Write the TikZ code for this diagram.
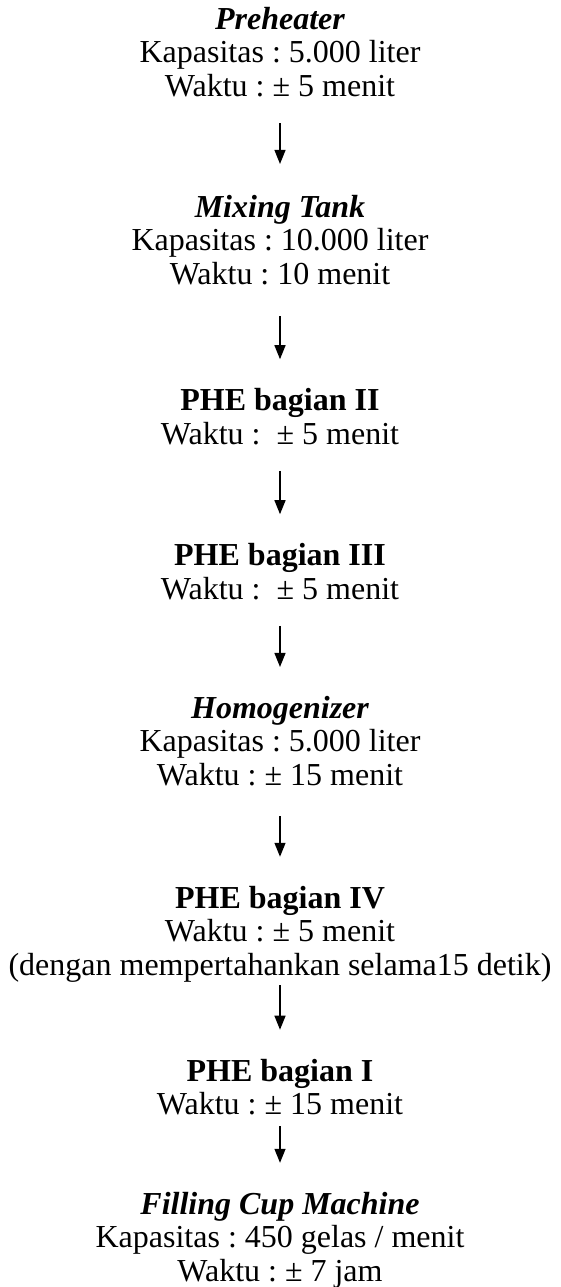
\documentclass[tikz,border=0pt]{standalone}
\usepackage{fontspec}
\setmainfont{Liberation Serif}
\usetikzlibrary{arrows.meta}
\frenchspacing
\begin{document}
\begin{tikzpicture}[x=1pt,y=1pt,
  blk/.style={align=center, inner sep=0pt, font=\frenchspacing\fontsize{32}{33.5}\selectfont},
  flow/.style={draw, line width=1.3pt, -{Triangle[length=14pt,width=11pt]}}]
\useasboundingbox (0,0) rectangle (560,-1287);
\node[blk] (b1) at (280,-52) {{\bfseries\itshape Preheater}\\Kapasitas : 5.000 liter\\Waktu : ± 5 menit};
\node[blk] (b2) at (280,-240) {{\bfseries\itshape Mixing Tank}\\Kapasitas : 10.000 liter\\Waktu : 10 menit};
\node[blk] (b3) at (280,-416.5) {{\bfseries PHE bagian II}\\Waktu :\ \ ± 5 menit};
\node[blk] (b4) at (280,-571.5) {{\bfseries PHE bagian III}\\Waktu :\ \ ± 5 menit};
\node[blk] (b5) at (280,-741) {{\bfseries\itshape Homogenizer}\\Kapasitas : 5.000 liter\\Waktu : ± 15 menit};
\node[blk] (b6) at (280,-934) {{\bfseries PHE bagian IV}\\Waktu : ± 5 menit\\(dengan mempertahankan selama15 detik)};
\node[blk] (b7) at (280,-1087) {{\bfseries PHE bagian I}\\Waktu : ± 15 menit};
\node[blk] (b8) at (280,-1240) {{\bfseries\itshape Filling Cup Machine}\\Kapasitas : 450 gelas / menit\\Waktu : ± 7 jam};
\draw[flow, shorten <=26pt, shorten >=31pt] (b1.south) -- (b2.north);
\draw[flow, shorten <=31pt, shorten >=29pt] (b2.south) -- (b3.north);
\draw[flow, shorten <=26pt, shorten >=29pt] (b3.south) -- (b4.north);
\draw[flow, shorten <=26pt, shorten >=29pt] (b4.south) -- (b5.north);
\draw[flow, shorten <=30pt, shorten >=29pt] (b5.south) -- (b6.north);
\draw[flow, shorten <=3pt, shorten >=29pt] (b6.south) -- (b7.north);
\draw[flow, shorten <=11pt, shorten >=29pt] (b7.south) -- (b8.north);
\end{tikzpicture}
\end{document}
